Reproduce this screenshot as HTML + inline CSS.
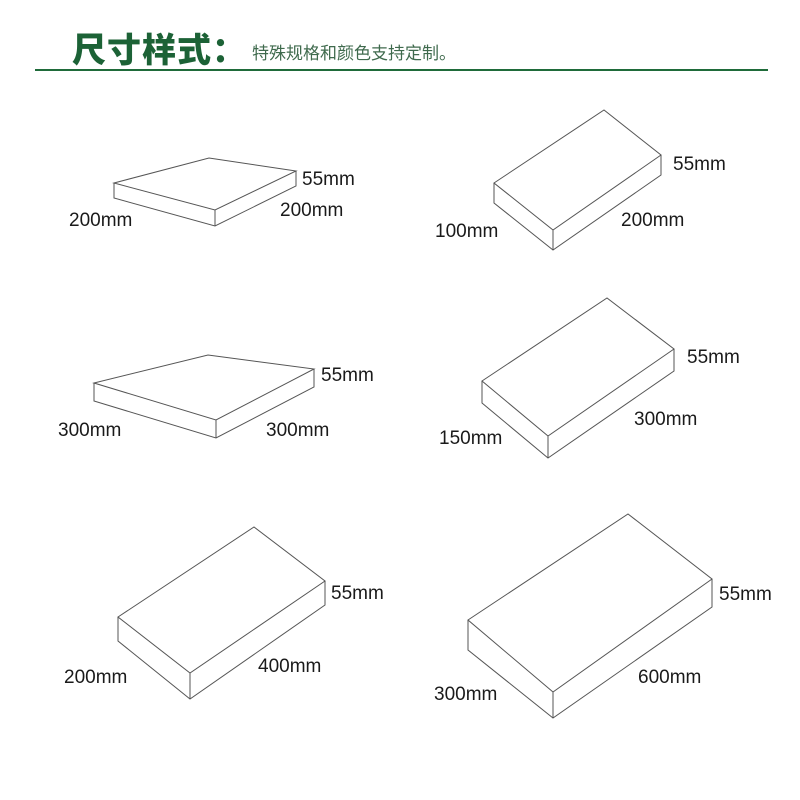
<!DOCTYPE html>
<html><head><meta charset="utf-8"><style>
html,body{margin:0;padding:0;background:#fff;width:800px;height:800px;overflow:hidden}
svg{display:block}
.l{font-family:"Liberation Sans","DejaVu Sans",sans-serif;font-size:19px;fill:#1a1a1a}
</style></head><body>
<svg width="800" height="800" viewBox="0 0 800 800" xmlns="http://www.w3.org/2000/svg">
<text x="72" y="62" font-family="'Noto Sans CJK SC',sans-serif" font-weight="900" font-size="34" letter-spacing="1" fill="#1c6236">尺寸样式：</text>
<text x="252" y="59" font-family="'Noto Sans CJK SC',sans-serif" font-size="17" fill="#3f6a4d">特殊规格和颜色支持定制。</text>
<rect x="35" y="69" width="733" height="2" fill="#1f6b3a"/>
<g fill="none" stroke="#555" stroke-width="1">
<path d="M114,183 L209,158 L296,171 L215,210 Z M114,183 V198 L215,226 L296,186 V171 M215,210 V226"/>
<path d="M494,183 L604,110 L661,155 L553,230 Z M494,183 V203 L553,250 L661,175 V155 M553,230 V250"/>
<path d="M94,383 L208,355 L314,369 L216,420 Z M94,383 V401 L216,438 L314,387 V369 M216,420 V438"/>
<path d="M482,381 L607,298 L674,349 L548,436 Z M482,381 V403 L548,458 L674,371 V349 M548,436 V458"/>
<path d="M118,617 L254,527 L325,581 L190,673 Z M118,617 V641 L190,699 L325,605 V581 M190,673 V699"/>
<path d="M468,620 L628,514 L712,579 L553,692 Z M468,620 V650 L553,718 L712,607 V579 M553,692 V718"/>
</g>
<g class="l">
<text x="302" y="185">55mm</text><text x="280" y="216">200mm</text><text x="69" y="226">200mm</text>
<text x="673" y="170">55mm</text><text x="621" y="226">200mm</text><text x="435" y="237">100mm</text>
<text x="321" y="381">55mm</text><text x="266" y="436">300mm</text><text x="58" y="436">300mm</text>
<text x="687" y="363">55mm</text><text x="634" y="425">300mm</text><text x="439" y="444">150mm</text>
<text x="331" y="599">55mm</text><text x="258" y="672">400mm</text><text x="64" y="683">200mm</text>
<text x="719" y="600">55mm</text><text x="638" y="683">600mm</text><text x="434" y="700">300mm</text>
</g>
</svg>
</body></html>
